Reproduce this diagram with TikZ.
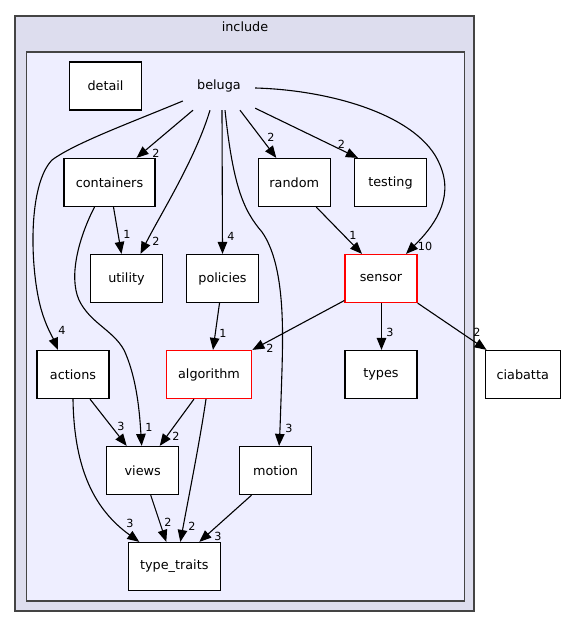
\documentclass[tikz,border=0pt]{standalone}
\usepackage{fontspec}
\setmainfont{DejaVu Sans}
\usetikzlibrary{arrows.meta}
\definecolor{outerfill}{HTML}{DDDDEE}
\definecolor{innerfill}{HTML}{EEEEFF}
\definecolor{framegray}{HTML}{444444}
\begin{document}
\begin{tikzpicture}[x=1pt,y=-1pt,
  dirbox/.style={draw=black, fill=white, line width=1.2pt, minimum width=72pt, minimum height=48pt, inner sep=0pt, font=\fontsize{12.8}{14}\selectfont},
  hotbox/.style={dirbox, draw=red},
  cluster/.style={draw=framegray, line width=1.6pt},
  dep/.style={draw=black, line width=1.1pt, -{Triangle[length=12pt,width=9.5pt]}},
  lbl/.style={font=\fontsize{11.2}{12}\selectfont, inner sep=0pt}]
\useasboundingbox (0,0) rectangle (565,628);
% clusters
\draw[cluster, fill=outerfill] (15,16) rectangle (474,611);
\node[font=\fontsize{12.8}{14}\selectfont] (include) at (245,27) {include};
\draw[cluster, fill=innerfill] (26.5,52) rectangle (464.5,601);
% nodes
\node[minimum width=72pt, minimum height=48pt, inner sep=0pt, font=\fontsize{12.8}{14}\selectfont] (beluga) at (219,86) {beluga};
\node[dirbox] (detail) at (105.5,86) {detail};
\node[dirbox, minimum width=91pt] (containers) at (109.5,182.5) {containers};
\node[dirbox] (random) at (294.3,182.5) {random};
\node[dirbox] (testing) at (390.5,182.5) {testing};
\node[dirbox] (utility) at (126.5,278.5) {utility};
\node[dirbox] (policies) at (222.5,278.5) {policies};
\node[hotbox] (sensor) at (381,278.5) {sensor};
\node[dirbox] (actions) at (73,374.5) {actions};
\node[hotbox, minimum width=85.5pt] (algorithm) at (209,374.5) {algorithm};
\node[dirbox] (types) at (381,374.5) {types};
\node[dirbox, minimum width=75pt] (ciabatta) at (522.7,374.5) {ciabatta};
\node[dirbox] (views) at (142.7,470.5) {views};
\node[dirbox] (motion) at (275.6,470.5) {motion};
\node[dirbox, minimum width=92pt] (typetraits) at (174.3,566.5) {type\_traits};
% edges from beluga
\draw[dep] ([yshift=-15pt]beluga.west) .. controls (130,123) and (75,143) .. (52,160)
  .. controls (28,185) and (30,265) .. (40,305) .. controls (45,325) and (53,338) .. ([xshift=-15pt]actions.north);
\node[lbl] (l1) at (62,330) {4};
\draw[dep] ([xshift=-26pt]beluga.south) -- ([xshift=27pt]containers.north);
\node[lbl] (l2) at (156,153) {2};
\draw[dep] ([xshift=-9pt]beluga.south) .. controls (195,160) and (160,215) .. ([xshift=14pt]utility.north);
\node[lbl] (l3) at (156,241) {2};
\draw[dep] ([xshift=3pt]beluga.south) -- (policies.north);
\node[lbl] (l4) at (231,236) {4};
\draw[dep] ([xshift=6pt]beluga.south) .. controls (233,185) and (243,210) .. (262,232)
  .. controls (285,265) and (283,330) .. (282,370) .. controls (281,400) and (280,430) .. ([xshift=3.5pt]motion.north);
\node[lbl] (l5) at (289,428) {3};
\draw[dep] ([xshift=21pt]beluga.south) -- ([xshift=-18pt]random.north);
\node[lbl] (l6) at (271,137) {2};
\draw[dep] ([yshift=2pt]beluga.south east) -- ([xshift=4pt]testing.north west);
\node[lbl] (l7) at (341.5,144) {2};
\draw[dep] ([yshift=-2pt]beluga.east) .. controls (330,90) and (420,115) .. (440,165)
  .. controls (455,200) and (432,228) .. ([xshift=25pt]sensor.north);
\node[lbl] (l8) at (425,246) {10};
% other edges
\draw[dep] ([xshift=4pt]containers.south) -- ([xshift=-5pt]utility.north);
\node[lbl] (l9) at (127,234) {1};
\draw[dep] ([xshift=-15pt]containers.south) .. controls (80,235) and (68,275) .. (79,300)
  .. controls (90,323) and (113,330) .. (124,350) .. controls (138,380) and (140,420) .. ([xshift=-1pt]views.north);
\node[lbl] (l10) at (149,427) {1};
\draw[dep] ([xshift=22pt]random.south) -- ([xshift=-19pt]sensor.north);
\node[lbl] (l11) at (353,235) {1};
\draw[dep] ([xshift=-3pt]policies.south) -- ([xshift=4pt]algorithm.north);
\node[lbl] (l12) at (223,333) {1};
\draw[dep] ([yshift=-22pt]sensor.west) -- (algorithm.north east);
\node[lbl] (l13) at (270,348) {2};
\draw[dep] ([xshift=0.5pt]sensor.south) -- ([xshift=0.5pt]types.north);
\node[lbl] (l14) at (390,332) {3};
\draw[dep] (sensor.south east) -- ([xshift=2pt]ciabatta.north west);
\node[lbl] (l15) at (477,332) {2};
\draw[dep] ([xshift=17pt]actions.south) -- ([xshift=-16pt]views.north);
\node[lbl] (l16) at (121,426) {3};
\draw[dep] (actions.south) .. controls (74,470) and (95,510) .. ([xshift=-35pt]typetraits.north);
\node[lbl] (l17) at (130,523) {3};
\draw[dep] ([xshift=-15pt]algorithm.south) -- ([xshift=17pt]views.north);
\node[lbl] (l18) at (176,436) {2};
\draw[dep] ([xshift=-3pt]algorithm.south) .. controls (200,440) and (190,490) .. ([xshift=6pt]typetraits.north);
\node[lbl] (l19) at (192,526) {2};
\draw[dep] ([xshift=8pt]views.south) -- ([xshift=-8pt]typetraits.north);
\node[lbl] (l20) at (168,522) {2};
\draw[dep] ([xshift=-24pt]motion.south) -- ([xshift=25pt]typetraits.north);
\node[lbl] (l21) at (218,536) {3};
\end{tikzpicture}
\end{document}
